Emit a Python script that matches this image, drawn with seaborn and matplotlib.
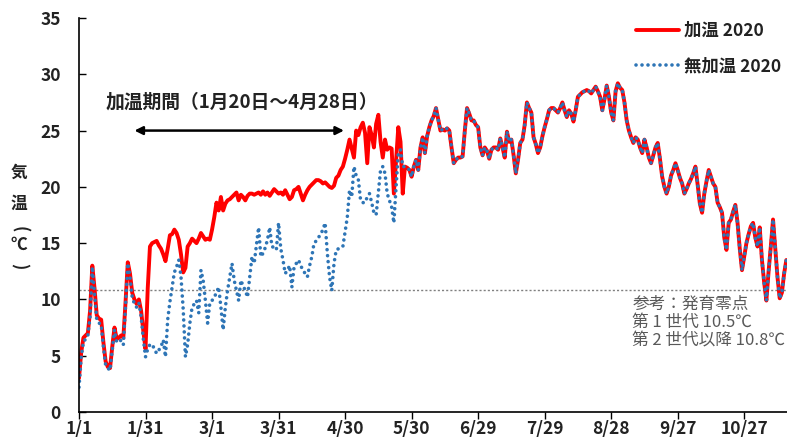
import numpy as np
import pandas as pd
import matplotlib
matplotlib.use("Agg")
import matplotlib.pyplot as plt
import seaborn as sns

# Daily mean air temperature, 2020 (day 0 = 1 January)
heated_jan_may = [
    3.0, 5.3, 6.6, 6.8, 7.0, 9.0, 13.0, 11.0, 8.6, 8.3, 8.2, 6.2, 4.5, 4.0, 3.9, 5.8,
    7.5, 6.5, 6.6, 6.8, 6.6, 9.8, 13.3, 12.3, 10.6, 10.0, 9.6, 10.0, 9.0, 7.2, 5.6,
    11.0, 14.7, 15.0, 15.1, 15.2, 14.8, 14.5, 14.0, 13.4, 14.5, 15.7, 15.8, 16.2, 15.9, 15.3,
    14.0, 12.4, 12.8, 14.7, 15.0, 15.4, 15.2, 15.0, 15.4, 15.9, 15.6, 15.3, 15.4, 15.3, 16.2,
    17.3, 18.6, 17.9, 19.1, 17.9, 18.5, 18.8, 18.9, 19.1, 19.3, 19.5, 18.8, 19.3, 19.1, 18.8,
    19.2, 19.4, 19.4, 19.3, 19.4, 19.5, 19.3, 19.6, 19.3, 19.5, 19.2, 19.5, 19.8, 19.6, 19.4,
    19.5, 19.3, 19.7, 19.3, 18.9, 19.1, 19.7, 19.8, 20.0, 19.4, 18.8, 19.3, 19.7, 20.0, 20.2,
    20.4, 20.6, 20.6, 20.5, 20.3, 20.4, 20.2, 20.0, 19.9, 20.1, 20.8, 21.0, 21.5, 21.8, 22.5,
    23.3, 24.2, 23.4, 22.6, 25.0, 24.6, 25.3, 25.7, 24.8, 22.1, 25.3, 24.6, 23.5, 25.6, 26.4,
    24.0, 22.6, 24.2, 23.3, 23.5, 23.4, 19.4, 22.4, 25.3, 24.0, 19.4,
]
unheated_jan_may = [
    2.2, 4.9, 6.2, 6.5, 6.8, 8.5, 12.9, 10.6, 8.2, 7.9, 7.8, 5.8, 4.2, 3.9, 3.7, 5.5,
    7.3, 6.2, 6.2, 6.4, 6.0, 9.5, 13.2, 12.0, 10.2, 9.6, 9.3, 9.7, 8.5, 6.5, 4.9,
    5.6, 6.0, 6.0, 5.6, 5.2, 5.5, 5.8, 6.4, 4.9, 8.2, 9.8, 11.1, 12.4, 12.9, 13.5,
    12.0, 9.1, 4.9, 6.0, 7.9, 9.3, 9.6, 9.9, 8.8, 12.6, 11.7, 9.9, 7.9, 9.7, 9.9,
    10.2, 10.6, 11.1, 9.3, 7.3, 9.3, 10.8, 12.0, 13.2, 11.7, 10.8, 9.9, 11.7, 11.2, 10.8,
    10.2, 12.0, 13.8, 13.2, 14.8, 16.4, 13.8, 14.1, 14.6, 15.3, 16.4, 14.7, 14.6, 14.4, 16.8,
    14.5, 13.5, 12.3, 12.6, 13.0, 11.1, 12.9, 13.2, 13.5, 13.0, 12.6, 12.3, 12.0, 13.0, 13.8,
    15.0, 15.2, 15.5, 15.8, 16.2, 16.8, 14.1, 12.0, 10.8, 13.2, 14.4, 14.5, 14.6, 14.7, 16.0,
    17.3, 19.7, 19.1, 21.8, 21.0, 20.6, 18.8, 18.6, 18.6, 19.1, 19.4, 18.6, 17.7, 17.5, 19.5,
    21.5, 21.8, 21.2, 19.4, 18.8, 18.2, 16.8, 20.0, 23.0, 23.3, 21.8,
]
# After the heating period both houses follow outdoor temperature
after_heating = [
    21.8, 21.7, 21.5, 20.9, 21.8, 22.4, 21.5, 23.5, 24.4, 23.0,
    24.5, 25.3, 25.9, 26.3, 27.0, 26.0, 25.0, 25.1, 25.0, 25.2,
    25.0, 23.5, 22.1, 22.4, 22.6, 22.6, 22.7, 25.0, 27.0, 26.5,
    25.9, 25.9, 25.5, 25.3, 23.5, 22.8, 23.5, 23.2, 22.5, 23.3,
    23.5, 23.5, 23.3, 24.3, 23.5, 22.6, 24.9, 24.0, 24.2, 22.8,
    21.2, 22.4, 23.9, 24.2, 25.5, 27.5, 27.0, 26.6, 24.4, 23.8,
    23.0, 23.5, 24.5, 25.3, 26.0, 26.8, 27.0, 27.0, 26.8, 26.6,
    27.0, 27.5, 26.8, 26.2, 26.8, 26.5, 25.8, 26.8, 28.0, 28.2,
    28.4, 28.5, 28.6, 28.5, 28.3, 28.6, 28.9, 28.5, 28.0, 26.8,
    27.8, 29.0, 28.0, 26.6, 25.9, 28.5, 29.2, 28.8, 28.6, 27.5,
    25.9, 25.0, 24.4, 23.9, 24.4, 24.2, 23.5, 23.0, 24.2, 23.5,
    22.6, 22.1, 22.8, 23.5, 23.9, 22.5, 20.9, 20.0, 19.4, 20.0,
    21.0, 21.5, 22.1, 21.5, 20.8, 20.3, 19.4, 19.8, 20.3, 20.7,
    21.2, 21.8, 20.2, 18.5, 17.7, 19.4, 20.5, 21.5, 20.9, 20.3,
    20.0, 18.6, 18.2, 17.7, 15.5, 14.4, 16.8, 17.1, 17.8, 18.4,
    16.8, 14.5, 12.6, 13.8, 15.0, 15.8, 16.5, 16.8, 15.5, 14.7,
    16.4, 13.5, 11.5, 9.9, 12.5, 14.7, 17.1, 14.5, 12.0, 10.1,
    10.6, 12.3, 13.5,
]

tick_days = [0, 30, 60, 90, 120, 150, 180, 210, 240, 270, 300]
tick_labels = ["1/1", "1/31", "3/1", "3/31", "4/30", "5/30", "6/29", "7/29", "8/28", "9/27", "10/27"]
zero_point = 10.8
period_start, period_end = 25.0, 119.5   # arrow ends, day index

heated = heated_jan_may + after_heating
unheated = unheated_jan_may + after_heating
df = pd.DataFrame({"day": np.arange(len(heated)), "加温 2020": heated, "無加温 2020": unheated})

sns.set_style("white")
plt.rcParams["font.family"] = ["Noto Sans CJK JP", "DejaVu Sans"]

W, H = 787, 448
fig = plt.figure(figsize=(W / 100, H / 100), dpi=100)
ax = fig.add_axes([79 / W, 36 / H, 708 / W, 394 / H])

sns.lineplot(data=df, x="day", y="加温 2020", ax=ax, color="#FF0000", linewidth=2.8,
             label="加温 2020", solid_joinstyle="round")
sns.lineplot(data=df, x="day", y="無加温 2020", ax=ax, color="#2E75B6", linewidth=2.6,
             linestyle=(0, (0.01, 1.65)), dash_capstyle="round", label="無加温 2020")

ax.axhline(zero_point, color="#808080", linestyle=(0, (1.5, 1.5)), linewidth=1.0, zorder=0)

ax.set_xlim(0, 319.3)
ax.set_ylim(0, 35)
ax.set_xticks(tick_days)
ax.set_xticklabels(tick_labels)
ax.set_yticks(range(0, 36, 5))
ax.set_xlabel("")
ax.set_ylabel("")
for lab in ax.get_xticklabels() + ax.get_yticklabels():
    lab.set_fontweight("bold")
    lab.set_fontsize(12.5)
    lab.set_color("#222222")
ax.tick_params(axis="x", direction="out", length=5, width=1, color="black", pad=1, bottom=True)
ax.tick_params(axis="y", direction="in", length=5, width=1, color="black", pad=13, left=True)
for side in ["top", "right"]:
    ax.spines[side].set_visible(False)
for side in ["left", "bottom"]:
    ax.spines[side].set_color("black")
    ax.spines[side].set_linewidth(1.2)

# vertical axis title, written top to bottom (brackets turned for vertical text)
for ch, ypix, rot in zip(["気", "温", "(", "℃", ")"], [173, 204, 229, 245, 266],
                         [0, 0, -90, 0, -90]):
    fig.text(19 / W, 1 - ypix / H, ch, ha="center", va="center", fontsize=12,
             fontweight="bold", color="#222222", rotation=rot)

# heating period
ax.text(73.3, 27.5, "加温期間（1月20日～4月28日）", ha="center", va="center",
        fontsize=13.5, fontweight="bold", color="#222222")
ax.annotate("", xy=(period_start, 25.0), xytext=(period_end, 25.0),
            arrowprops=dict(arrowstyle="<|-|>", color="black", lw=1.8,
                            mutation_scale=12, shrinkA=0, shrinkB=0))

ax.text(249.5, 10.3, "参考：発育零点\n第 1 世代 10.5℃\n第 2 世代以降 10.8℃", ha="left", va="top",
        fontsize=12, color="#595959", linespacing=1.1)

leg = ax.legend(loc="upper right", bbox_to_anchor=(1.014, 1.03), frameon=False,
                handlelength=2.5, handletextpad=0.3, labelspacing=1.0, fontsize=12.5)
for t in leg.get_texts():
    t.set_fontweight("bold")
    t.set_color("#222222")

fig.savefig("out.png", dpi=100)
